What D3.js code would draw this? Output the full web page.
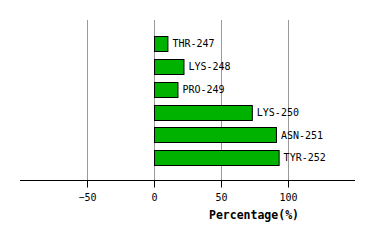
<!DOCTYPE html>
<html>
<head>
<meta charset="utf-8">
<script src="https://cdn.jsdelivr.net/npm/d3@7"></script>
<style>
  body { margin: 0; background: #fff; }
  text { font-family: "DejaVu Sans Mono", monospace; }
</style>
</head>
<body>
<svg id="chart" width="374" height="240"></svg>
<script>
const residues = ["THR-247", "LYS-248", "PRO-249", "LYS-250", "ASN-251", "TYR-252"];
const percentages = [10, 22, 17.5, 73, 91, 93];
const tickValues = [-50, 0, 50, 100];
const axisTitle = "Percentage(%)";

const svg = d3.select("#chart");

const x = d3.scaleLinear().domain([-100, 150]).range([20, 355]);
const y = d3.scaleBand().domain(residues).range([28.5, 173.1]).padding(0.34);
const axisY = 180;

// grid lines
svg.append("g")
  .selectAll("line")
  .data(tickValues)
  .join("line")
  .attr("x1", d => Math.round(x(d)) + 0.5)
  .attr("x2", d => Math.round(x(d)) + 0.5)
  .attr("y1", 20)
  .attr("y2", axisY)
  .attr("stroke", "#999")
  .attr("stroke-width", 1);

// bars
const data = residues.map((r, i) => ({ name: r, value: percentages[i] }));

svg.append("g")
  .selectAll("rect")
  .data(data)
  .join("rect")
  .attr("x", x(0) + 0.5)
  .attr("y", d => Math.round(y(d.name)) + 0.5)
  .attr("width", d => x(d.value) - x(0))
  .attr("height", Math.round(y.bandwidth()))
  .attr("fill", "#00b200")
  .attr("stroke", "#000")
  .attr("stroke-width", 1);

svg.append("g")
  .selectAll("text")
  .data(data)
  .join("text")
  .attr("x", d => x(d.value) + 5)
  .attr("y", d => y(d.name) + y.bandwidth() / 2)
  .attr("dy", "0.35em")
  .attr("font-size", 10)
  .attr("fill", "#000")
  .text(d => d.name);

// x axis
const gx = svg.append("g")
  .attr("transform", `translate(0,${axisY + 0.5})`)
  .call(d3.axisBottom(x).tickValues(tickValues).tickSize(7).tickPadding(6));

gx.select(".domain").attr("stroke", "#000").attr("d", `M${x.range()[0]},0H${x.range()[1]}`);
gx.selectAll(".tick line").attr("stroke", "#000");
gx.selectAll(".tick text")
  .attr("font-family", "DejaVu Sans Mono, monospace")
  .attr("font-size", 10)
  .attr("fill", "#000");

svg.append("text")
  .attr("x", 254)
  .attr("y", 219)
  .attr("text-anchor", "middle")
  .attr("font-size", 11.5)
  .attr("font-weight", "bold")
  .text(axisTitle);
</script>
</body>
</html>
